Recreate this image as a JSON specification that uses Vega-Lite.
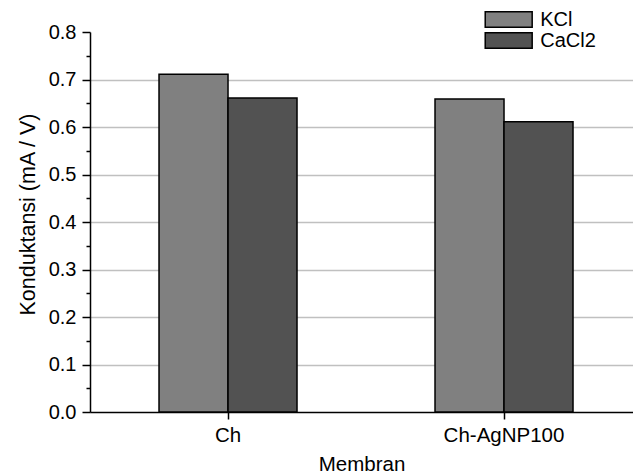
{
  "$schema": "https://vega.github.io/schema/vega-lite/v6.json",
  "width": 543,
  "height": 380,
  "autosize": {"type": "none"},
  "padding": {"left": 90, "top": 32, "right": 0, "bottom": 64},
  "background": "white",
  "data": {
    "values": [
      {"Membran": "Ch", "Salt": "KCl", "value": 0.711},
      {"Membran": "Ch", "Salt": "CaCl2", "value": 0.661},
      {"Membran": "Ch-AgNP100", "Salt": "KCl", "value": 0.659},
      {"Membran": "Ch-AgNP100", "Salt": "CaCl2", "value": 0.611}
    ]
  },
  "config": {
    "view": {"stroke": null},
    "font": "Liberation Sans",
    "axis": {
      "labelFont": "Liberation Sans",
      "titleFont": "Liberation Sans",
      "labelColor": "black",
      "titleColor": "black",
      "titleFontWeight": "normal",
      "domainColor": "black",
      "tickColor": "black",
      "domainWidth": 1.5,
      "tickWidth": 1.5
    },
    "legend": {
      "labelFont": "Liberation Sans",
      "labelColor": "black"
    }
  },
  "mark": {"type": "bar", "stroke": "black", "strokeWidth": 1.5},
  "encoding": {
    "x": {
      "field": "Membran",
      "type": "nominal",
      "sort": ["Ch", "Ch-AgNP100"],
      "scale": {"paddingInner": 0.5, "paddingOuter": 0.2337, "align": 0.535},
      "axis": {
        "title": "Membran",
        "labelAngle": 0,
        "labelFontSize": 20.5,
        "titleFontSize": 20.5,
        "tickSize": 7,
        "labelPadding": 6,
        "titlePadding": 9,
        "grid": false
      }
    },
    "xOffset": {"field": "Salt", "type": "nominal", "sort": ["KCl", "CaCl2"], "scale": {"paddingInner": 0, "paddingOuter": 0}},
    "y": {
      "field": "value",
      "type": "quantitative",
      "scale": {"domain": [0, 0.8], "nice": false, "zero": true},
      "axis": {
        "title": "Konduktansi (mA / V)",
        "values": [0, 0.05, 0.1, 0.15, 0.2, 0.25, 0.3, 0.35, 0.4, 0.45, 0.5, 0.55, 0.6, 0.65, 0.7, 0.75, 0.8],
        "labelExpr": "round(datum.value*20) % 2 == 0 ? format(datum.value, '.1f') : ''",
        "labelFontSize": 20,
        "titleFontSize": 21.5,
        "labelPadding": 6,
        "titlePadding": 9,
        "titleY": 182,
        "tickSize": {"condition": {"test": "round(datum.value*20) % 2 == 1", "value": 4}, "value": 8},
        "grid": true,
        "gridColor": {"condition": {"test": "round(datum.value*20) % 2 == 1 || datum.value > 0.75 || datum.value < 0.05", "value": "transparent"}, "value": "#c0c0c0"},
        "gridWidth": 1.5
      }
    },
    "color": {
      "field": "Salt",
      "type": "nominal",
      "sort": ["KCl", "CaCl2"],
      "scale": {"domain": ["KCl", "CaCl2"], "range": ["#808080", "#525252"]},
      "legend": {
        "title": null,
        "orient": "none",
        "legendX": 408.7,
        "legendY": -22.5,
        "padding": 0,
        "symbolType": "M-3,-1H3V1H-3Z",
        "symbolSize": 245,
        "symbolStrokeColor": "black",
        "symbolStrokeWidth": 1.5,
        "symbolOpacity": 1,
        "labelFontSize": 20,
        "labelOffset": 21.5,
        "rowPadding": -1
      }
    }
  }
}
